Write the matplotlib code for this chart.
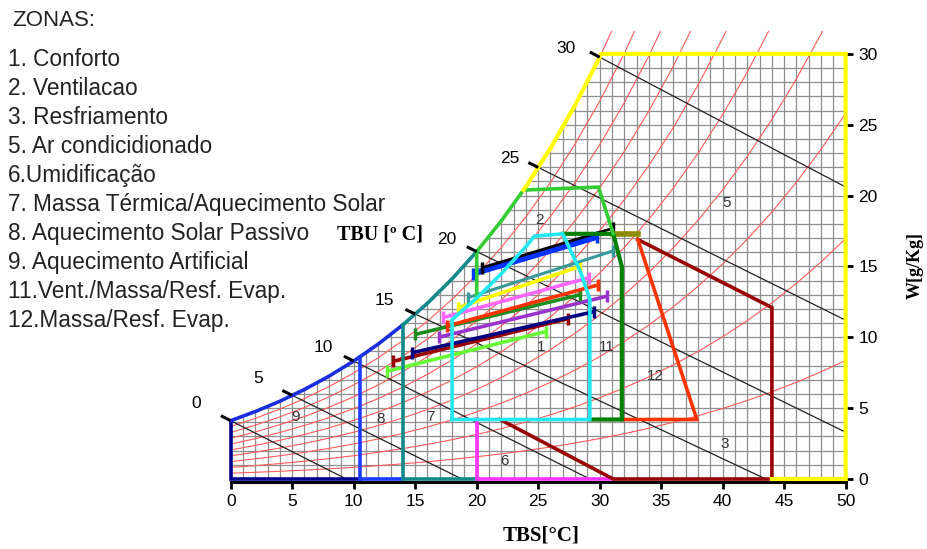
import numpy as np
import matplotlib
matplotlib.use("Agg")
import matplotlib.pyplot as plt
from matplotlib.patches import Polygon

plt.rcParams["font.family"] = ["Liberation Sans", "DejaVu Sans"]

# ── psychrometric base (station pressure ~93 kPa) ───────────────────────
P_ATM = 93.0
T_TAB = np.arange(0, 54, 2)
PSAT = [0.6113, 0.7060, 0.8135, 0.9353, 1.0729, 1.2281, 1.4027, 1.5989, 1.8187,
        2.0647, 2.3392, 2.6452, 2.9856, 3.3638, 3.7834, 4.2469, 4.7593, 5.3251,
        5.9479, 6.6328, 7.3849, 8.2096, 9.1124, 10.099, 11.177, 12.352, 13.631]
RH_LEVELS = [0.1, 0.2, 0.3, 0.4, 0.5, 0.6, 0.7, 0.8, 0.9, 1.0]

# wet bulb lines: value, end point
TBU = [0, 5, 10, 15, 20, 25, 30]
TBU_END_T = [9.4, 18.8, 29.2, 43.5, 50, 50, 50]
TBU_END_W = [0, 0, 0, 0, 3.3, 11.2, 20.6]
TBU_LBL_T = [-2.8, 2.2, 7.5, 12.5, 17.6, 22.7, 27.3]
TBU_LBL_W = [5.3, 7.1, 9.3, 12.6, 16.9, 22.6, 30.4]

# monthly lines
MES_T0 = [12.7, 13.2, 14.7, 16.9, 15.0, 17.6, 17.3, 18.5, 19.3, 19.7, 20.4]
MES_W0 = [7.6, 8.3, 8.9, 10.0, 10.2, 10.8, 11.4, 12.1, 12.8, 14.5, 14.9]
MES_T1 = [25.6, 27.4, 29.5, 30.6, 28.4, 29.9, 29.1, 28.4, 31.1, 29.8, 31.1]
MES_W1 = [10.4, 11.3, 11.8, 12.9, 13.0, 13.7, 14.2, 15.0, 16.1, 17.1, 17.7]
MES_COR = ["#66ff33", "#990000", "#000080", "#9933cc", "#1e8c1e", "#ff3300",
           "#ff66ff", "#ffff00", "#3a9a9a", "#0033ff", "#000000"]
MES_LW = [2.6, 2.6, 2.6, 2.6, 2.6, 2.6, 2.6, 2.6, 2.2, 4.5, 2.0]

# zone number labels
ZONA_NUM = ["1", "11", "12", "2", "3", "5", "6", "7", "8", "9"]
ZONA_T = [25.2, 30.6, 34.5, 25.1, 40.2, 40.3, 22.3, 16.2, 12.2, 5.3]
ZONA_W = [9.3, 9.3, 7.3, 18.3, 2.5, 19.5, 1.3, 4.4, 4.2, 4.4]

LEGENDA = ["1. Conforto", "2. Ventilacao", "3. Resfriamento", "5. Ar condicidionado",
           "6.Umidificação", "7. Massa Térmica/Aquecimento Solar",
           "8. Aquecimento Solar Passivo", "9. Aquecimento Artificial",
           "11.Vent./Massa/Resf. Evap.", "12.Massa/Resf. Evap."]

psat = np.array(PSAT)
W_SAT = 622 * psat / (P_ATM - psat)


def sat(t):
    return np.interp(t, T_TAB, W_SAT)


def rh_w(rh, t):
    ps = np.interp(t, T_TAB, psat)
    return 622 * rh * ps / (P_ATM - rh * ps)


def sat_path(t0, t1):
    ts = [t0] + [t for t in T_TAB if t0 < t < t1] + [t1]
    return list(ts), list(sat(np.array(ts)))


T30 = float(np.interp(30, W_SAT, T_TAB))

fig = plt.figure(figsize=(9.28, 5.49), dpi=100)
ax = fig.add_axes([0.2486, 0.1275, 0.6627, 0.8157])
ax.set_xlim(0, 50)
ax.set_ylim(0, 31.6)

# chart area (clip for grid)
st, sw = sat_path(0, T30)
area = Polygon(list(zip(st, sw)) + [(50, 30), (50, 0), (0, 0)], closed=True,
               transform=ax.transData, facecolor="none", edgecolor="none")
ax.add_patch(area)
vl = ax.vlines(np.arange(0, 51), 0, 30, color="#8f8f8f", lw=0.9, zorder=1)
hl = ax.hlines(np.arange(0, 31), 0, 50, color="#8f8f8f", lw=0.9, zorder=1)
vl.set_clip_path(area)
hl.set_clip_path(area)

# RH curves
for rh in RH_LEVELS:
    ax.plot(T_TAB, rh_w(rh, T_TAB), color="#ff5a5a", lw=0.8, zorder=2)

# wet bulb lines
for tb, te, we in zip(TBU, TBU_END_T, TBU_END_W):
    w0 = float(sat(tb))
    ax.plot([tb, te], [w0, we], color="#222222", lw=0.9, zorder=3)
    s = (we - w0) / (te - tb)
    ax.plot([tb - 0.8, tb], [w0 - 0.8 * s, w0], color="black", lw=2.2,
            solid_capstyle="butt", zorder=8, clip_on=False)
for tb, lt, lw_ in zip(TBU, TBU_LBL_T, TBU_LBL_W):
    ax.text(lt, lw_, str(tb), fontsize=12.5, ha="center", va="center", clip_on=False)

# monthly lines
for t0, w0, t1, w1, c, lw in zip(MES_T0, MES_W0, MES_T1, MES_W1, MES_COR, MES_LW):
    ax.plot([t0, t1], [w0, w1], color=c, lw=lw, solid_capstyle="butt", zorder=5)
    ax.plot([t0, t1], [w0, w1], ls="none", marker="|", ms=9, mew=2.5, color=c, zorder=5)

# zones
def zline(ts, ws, c, lw=2.6, z=6):
    ax.plot(ts, ws, color=c, lw=lw, solid_joinstyle="miter", zorder=z, clip_on=False)

# 9 / 8 / 7 (heating side)
zline([0, 0, 10.5], [float(sat(0)), 0, 0], "#000090")
t, w = sat_path(0, 14)
zline(t, w, "#1a2ee0")
zline([10.5, 10.5], [0, float(sat(10.5))], "#1a3cff")
zline([10.5, 14], [0, 0], "#1a3cff")
zline([14, 14], [0, float(sat(14))], "#138a8a")
t, w = sat_path(14, 20)
zline(t, w, "#138a8a")
zline([14, 20], [0, 0], "#138a8a")
# 6 umidificacao
zline([20, 20, 31.1], [4.2, 0, 0], "#ff33ff")
# 3 resfriamento
zline([21.9, 31.1, 44, 44, 33.1], [4.2, 0, 0, 12.1, 16.9], "#990000")
# 12
zline([33.1, 37.9, 31.8], [16.9, 4.2, 4.2], "#ff3300")
zline([31.1, 33.1], [17.3, 17.3], "#8c8c00", lw=4)
# 11
zline([27.0, 31.1, 31.8, 31.8, 29.2], [17.3, 17.3, 15.0, 4.2, 4.2], "#008000", lw=3)
# 2 ventilacao
t, w = sat_path(20, 23.8)
zline([20] + t + [29.9, 31.1], [12.8] + w + [20.6, 17.3], "#33cc33")
# 5 ar condicionado
t, w = sat_path(23.8, T30)
zline(t + [T30 + 0.1, 50, 50, 44], w + [30, 30, 0, 0], "#ffff00", lw=3)
# 1 conforto
tc = [18, 19, 20, 21, 22, 23, 24, 24.7]
wc = list(rh_w(0.8, np.array(tc, dtype=float)))
zline([18] + tc + [27.0, 28.4, 29.2, 29.2, 18], [4.2] + wc + [17.3, 14.7, 12.7, 4.2, 4.2],
      "#22e8f0", z=7)

for n, t_, w_ in zip(ZONA_NUM, ZONA_T, ZONA_W):
    ax.text(t_, w_, n, fontsize=11, ha="center", va="center", color="#333333", zorder=9)

# axes
for sp in ["top", "left", "right"]:
    ax.spines[sp].set_visible(False)
ax.spines["bottom"].set_linewidth(2.2)
ax.spines["bottom"].set_position(("outward", 2))
ax.set_xticks(np.arange(0, 51, 5))
ax.tick_params(axis="x", direction="out", length=5, width=2, labelsize=12.5, pad=4)
ax.yaxis.tick_right()
ax.set_yticks(np.arange(0, 31, 5))
ax.tick_params(axis="y", direction="out", length=5, width=2, labelsize=12.5, pad=4)

fig.text(0.583, 0.025, "TBS[°C]", fontsize=15, fontweight="bold",
         family=["Liberation Serif", "DejaVu Serif"], ha="center", va="center")
fig.text(0.986, 0.517, "W[g/Kg]", fontsize=13, fontweight="bold", rotation=90,
         family=["Liberation Serif", "DejaVu Serif"], ha="center", va="center")
fig.text(0.41, 0.572, "TBU [º C]", fontsize=14.5, fontweight="bold",
         family=["Liberation Serif", "DejaVu Serif"], ha="center", va="center")

fig.text(12 / 928, 1 - 20 / 549, "ZONAS:", fontsize=16, va="center", color="#222222")
for i, s in enumerate(LEGENDA):
    fig.text(8 / 928, 1 - (60 + 28.9 * i) / 549, s, fontsize=16.3, va="center", color="#222222")

fig.savefig("out.png", dpi=100, facecolor="white")
